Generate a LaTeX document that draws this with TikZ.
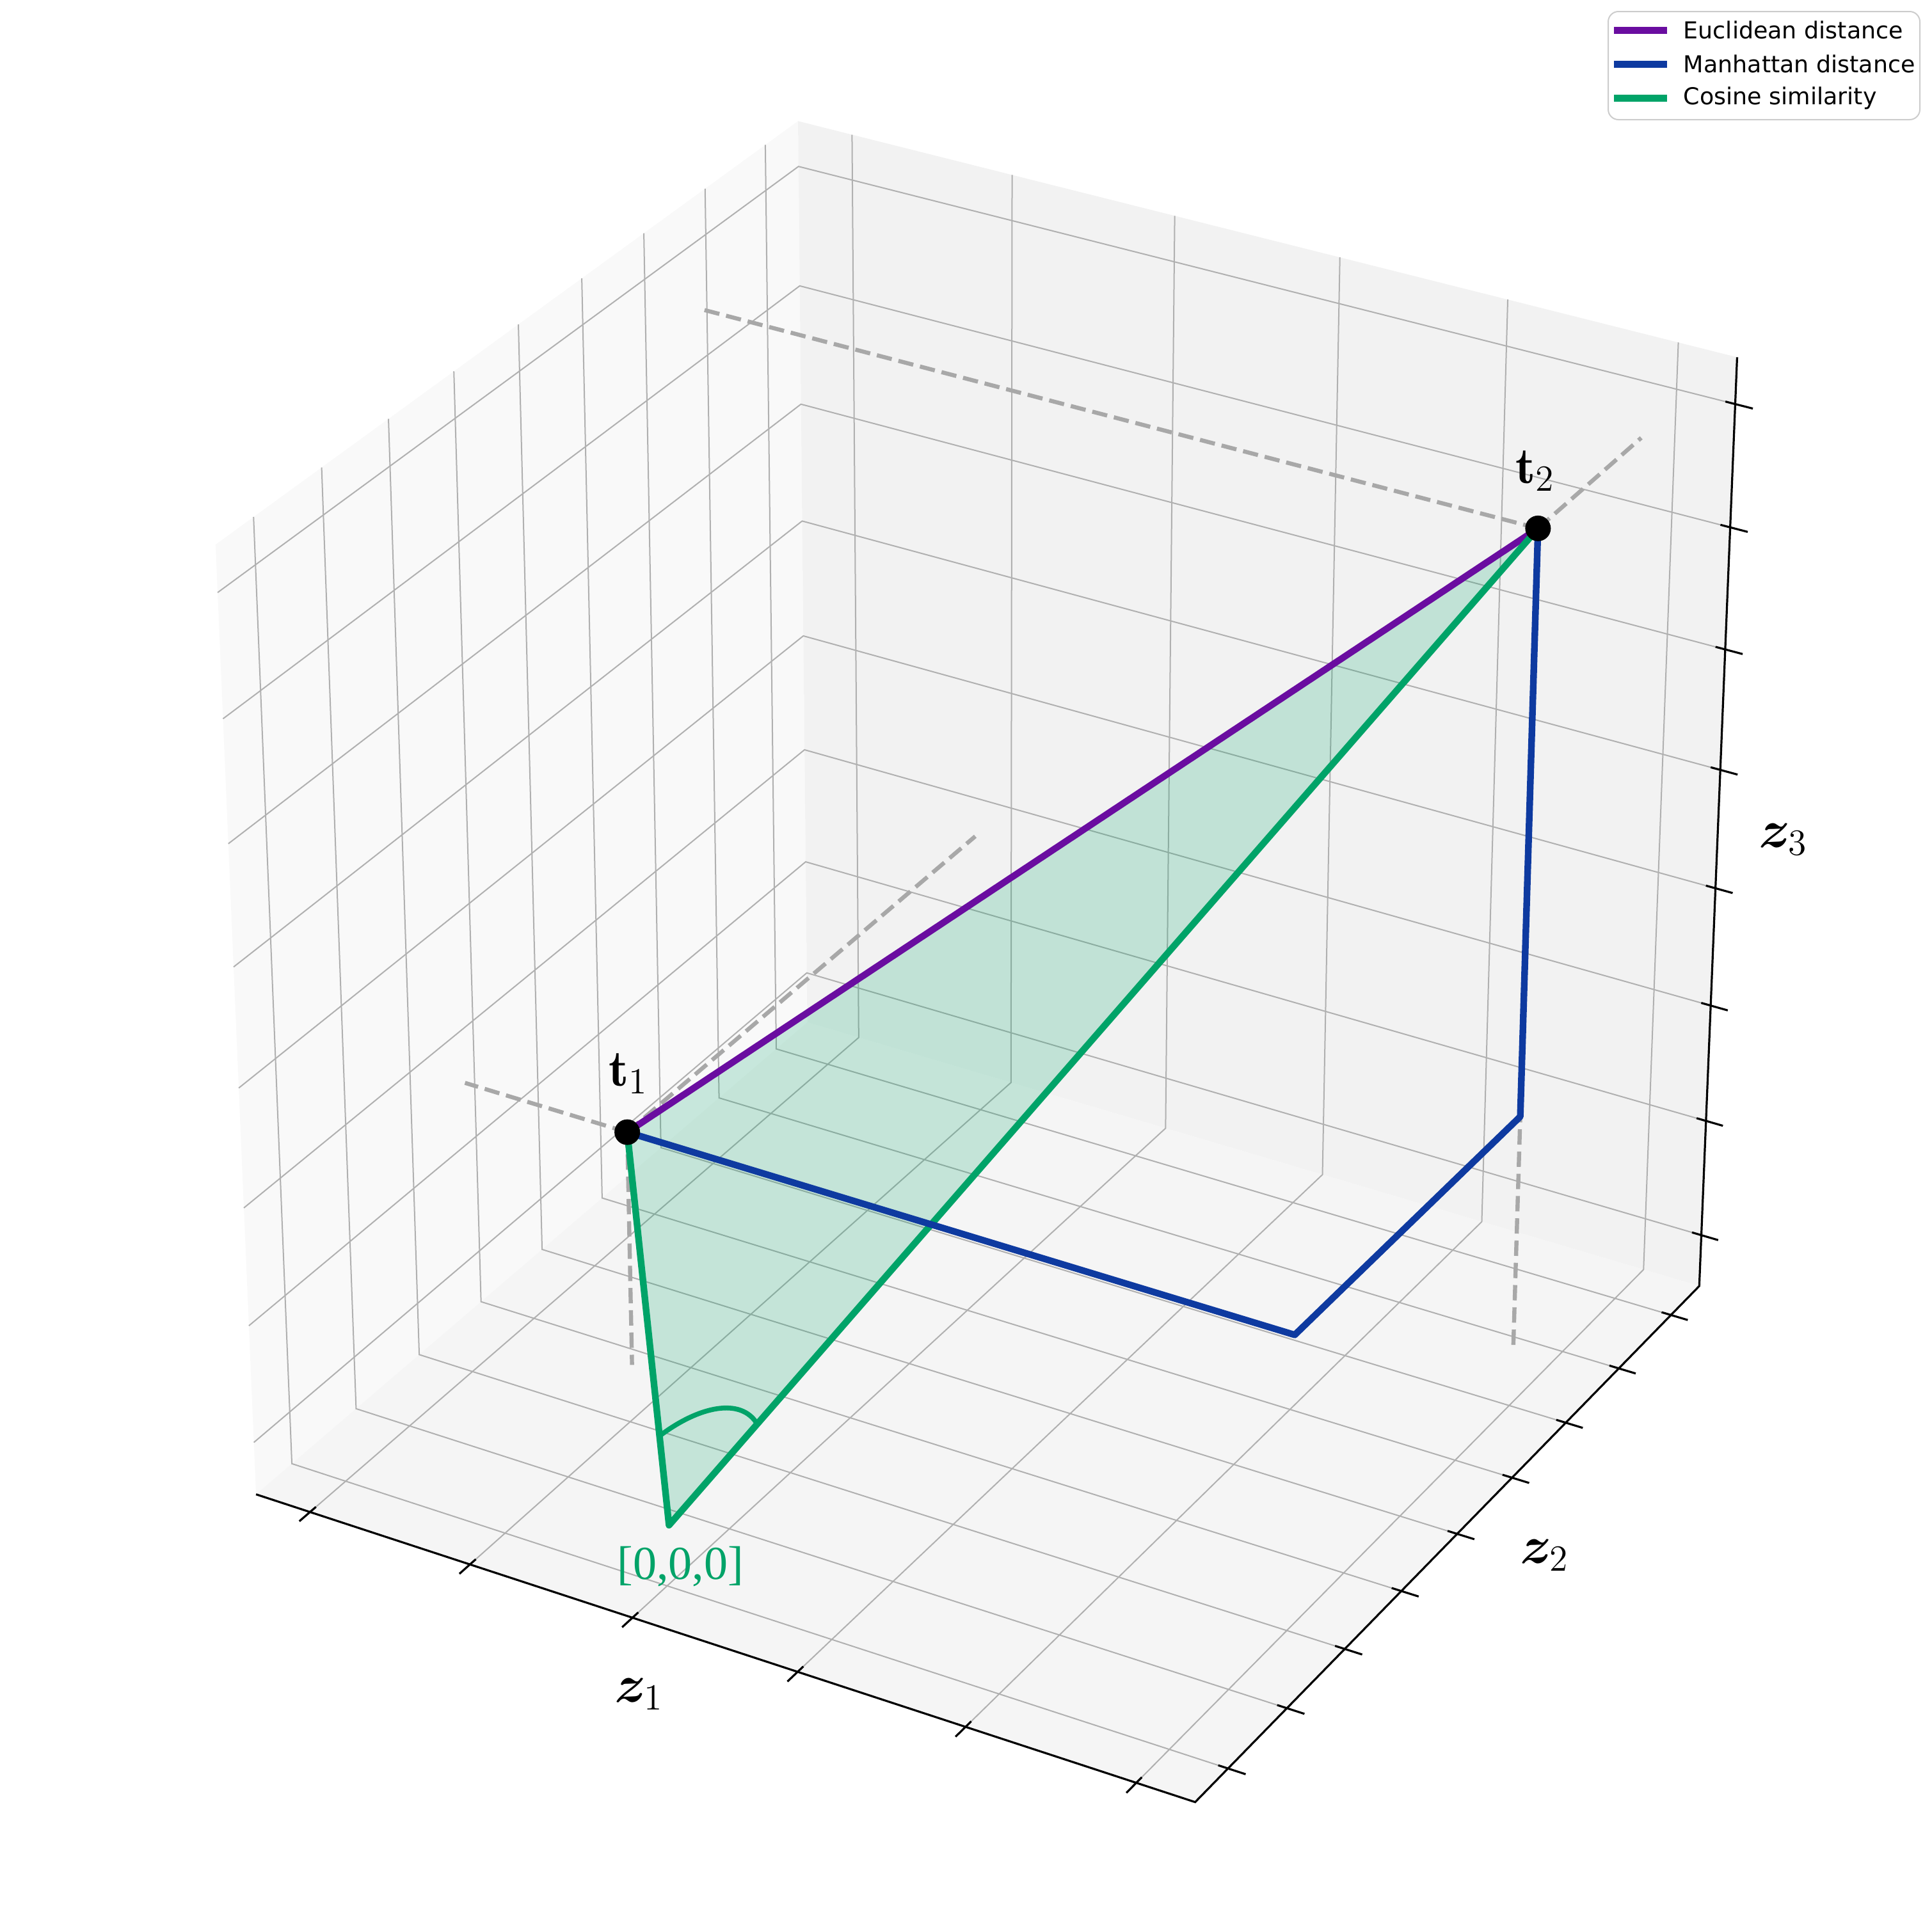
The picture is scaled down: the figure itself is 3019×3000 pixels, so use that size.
\documentclass[tikz,border=0pt]{standalone}
\usepackage{fontspec}
\usepackage{bm}
\newfontfamily\dejavu{DejaVu Sans}
\newfontfamily\lserif{Liberation Serif}
\usetikzlibrary{calc}
\definecolor{euc}{RGB}{106,13,160}
\definecolor{man}{RGB}{14,58,160}
\definecolor{cosg}{RGB}{0,163,104}
\definecolor{gridc}{RGB}{176,176,176}
\definecolor{dropc}{RGB}{168,168,168}
\newcommand\Pxyz[4]{%
  \pgfmathsetmacro\PjD{10-0.2287*(#2)+0.3961*(#3)-0.2641*(#4)}%
  \pgfmathsetmacro\PjX{1546.1+16039*(0.4573*(#2)+0.2641*(#3))/\PjD}%
  \pgfmathsetmacro\PjY{1455.6-16039*(-0.1320*(#2)+0.2287*(#3)+0.4573*(#4))/\PjD}%
  \coordinate (#1) at (\PjX,\PjY);}
\newcommand\xticklist{-0.88,-0.528,-0.176,0.176,0.528,0.88}
\newcommand\yticklist{-0.879,-0.659,-0.439,-0.220,0,0.220,0.439,0.659,0.879}
\newcommand\zticklist{-0.885,-0.629,-0.374,-0.118,0.137,0.393,0.649,0.904}
\tikzset{
  gridline/.style={draw=gridc, line width=0.5pt},
  axisline/.style={draw=black, line width=0.8pt},
  dropline/.style={draw=dropc, line width=1.6pt, dash pattern=on 6pt off 2.7pt},
  eucline/.style={draw=euc, line width=2.6pt, line cap=round},
  manline/.style={draw=man, line width=2.6pt, line join=round},
  cosline/.style={draw=cosg, line width=2.6pt, line join=round},
  ptdot/.style={fill=black, circle, inner sep=0pt, minimum size=10pt},
  axlabel/.style={font=\fontsize{20}{24}\selectfont, inner sep=0pt},
  leglabel/.style={font=\dejavu\fontsize{9.1}{11}\selectfont, anchor=west, inner sep=0pt},
}
\begin{document}
\begin{tikzpicture}[x=0.25pt,y=-0.25pt]
\useasboundingbox (0,0) rectangle (3019,3000);
% box corners
\Pxyz{LB}{-1}{-1}{-1}\Pxyz{FB}{1}{-1}{-1}\Pxyz{RB}{1}{1}{-1}\Pxyz{BB}{-1}{1}{-1}
\Pxyz{LT}{-1}{-1}{1}\Pxyz{RT}{1}{1}{1}\Pxyz{BT}{-1}{1}{1}
% panes
\fill[color={rgb,255:red,249;green,249;blue,249}] (LB)--(BB)--(BT)--(LT)--cycle;
\fill[color={rgb,255:red,242;green,242;blue,242}] (BB)--(RB)--(RT)--(BT)--cycle;
\fill[color={rgb,255:red,245;green,245;blue,245}] (LB)--(FB)--(RB)--(BB)--cycle;
% grid
\foreach \t in \xticklist{
  \Pxyz{ga}{\t}{-1}{-1}\Pxyz{gb}{\t}{1}{-1}\Pxyz{gc}{\t}{1}{1}
  \draw[gridline] (ga)--(gb)--(gc);
}
\foreach \t in \yticklist{
  \Pxyz{ga}{1}{\t}{-1}\Pxyz{gb}{-1}{\t}{-1}\Pxyz{gc}{-1}{\t}{1}
  \draw[gridline] (ga)--(gb)--(gc);
}
\foreach \t in \zticklist{
  \Pxyz{ga}{-1}{-1}{\t}\Pxyz{gb}{-1}{1}{\t}\Pxyz{gc}{1}{1}{\t}
  \draw[gridline] (ga)--(gb)--(gc);
}
% axes and ticks
\draw[axisline] (LB)--(FB)--(RB)--(RT);
\foreach \t in \xticklist{
  \Pxyz{ka}{\t}{-1.036}{-1}\Pxyz{kb}{\t}{-0.98}{-1}\draw[axisline] (ka)--(kb);}
\foreach \t in \yticklist{
  \Pxyz{ka}{1.036}{\t}{-1}\Pxyz{kb}{0.98}{\t}{-1}\draw[axisline] (ka)--(kb);}
\foreach \t in \zticklist{
  \Pxyz{ka}{1.036}{1}{\t}\Pxyz{kb}{0.98}{1}{\t}\draw[axisline] (ka)--(kb);}
% data points
\Pxyz{O}{-0.194}{-0.84}{-0.895}
\Pxyz{T1}{-0.565}{-0.37}{-0.41}
\Pxyz{T2}{0.849}{0.511}{0.83}
\Pxyz{MA}{0.849}{-0.37}{-0.41}
\Pxyz{MB}{0.849}{0.511}{-0.41}
\Pxyz{T1x}{-0.923}{-0.37}{-0.41}\Pxyz{T1y}{-0.565}{0.923}{-0.41}\Pxyz{T1z}{-0.565}{-0.37}{-0.923}
\Pxyz{T2x}{-0.923}{0.511}{0.83}\Pxyz{T2y}{0.849}{0.923}{0.83}\Pxyz{T2z}{0.849}{0.511}{-0.923}
% drop lines
\draw[dropline] (T1)--(T1x); \draw[dropline] (T1)--(T1y); \draw[dropline] (T1)--(T1z);
\draw[dropline] (T2)--(T2x); \draw[dropline] (T2)--(T2y); \draw[dropline] (T2)--(T2z);
% cosine triangle
\fill[cosg, opacity=0.2] (O)--(T1)--(T2)--cycle;
\draw[eucline] (T1)--(T2);
\draw[cosline] (T1)--(O)--(T2);
\draw[manline] (T1)--(MA)--(MB)--(T2);
\coordinate (P1) at ($(O)!0.227!(T1)$);
\coordinate (P2) at ($(O)!0.1015!(T2)$);
\draw[cosg, line width=1.9pt] (P1) .. controls ($(P1)+(62,-47)$) and ($(P2)+(-25,-42)$) .. (P2);
\node[ptdot] (d1) at (T1) {};
\node[ptdot] (d2) at (T2) {};
% labels
\node[axlabel] (l1) at (982,1678) {$\mathbf{t}_1$};
\node[axlabel] (l2) at (2399,736) {$\mathbf{t}_2$};
\node[font=\lserif\fontsize{18.5}{22}\selectfont, text=cosg, inner sep=0pt] (lo) at (1063,2448) {[0,0,0]};
\node[axlabel] (z1) at (999,2648) {$\bm{z}_1$};
\node[axlabel] (z2) at (2414,2431) {$\bm{z}_2$};
\node[axlabel] (z3) at (2787,1312) {$\bm{z}_3$};
% legend
\draw[draw={rgb,255:red,204;green,204;blue,204}, fill=white, fill opacity=0.8, line width=0.5pt, rounded corners=4pt] (2513,18) rectangle (3000,187);
\draw[euc, line width=2.75pt] (2522,47) -- (2605,47);
\draw[man, line width=2.75pt] (2522,100) -- (2605,100);
\draw[cosg, line width=2.75pt] (2522,153) -- (2605,153);
\node[leglabel] (g1) at (2630,47) {Euclidean distance};
\node[leglabel] (g2) at (2630,100) {Manhattan distance};
\node[leglabel] (g3) at (2630,153) {Cosine similarity};
\end{tikzpicture}
\end{document}
